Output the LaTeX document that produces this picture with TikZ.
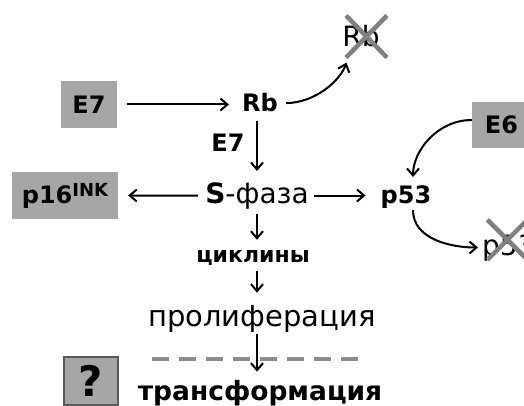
\documentclass[tikz,border=0pt]{standalone}
\usepackage{fontspec}
\setmainfont{DejaVu Sans}
\usetikzlibrary{arrows.meta, positioning}
\newcommand{\fsz}[1]{\fontsize{#1}{#1}\selectfont}
\tikzstyle{greybox} = [rectangle, fill=black!35, inner sep=0pt,
    text centered, font=\bfseries\fsz{24}]
\tikzstyle{word} = [inner sep=0pt, anchor=base, font=\fsz{28}]
\tikzstyle{boldword} = [inner sep=0pt, anchor=base, font=\bfseries\fsz{24}]
\tikzstyle{arrow} = [-{Straight Barb[length=7pt, width=12pt]}, line width=2pt]
\tikzstyle{cross} = [line width=4.5pt, draw=black!50]
\begin{document}
\begin{tikzpicture}[x=1pt, y=-1pt]
    \useasboundingbox (0,0) rectangle (524,406);
    % Boxes
    \node[greybox, minimum width=56pt, minimum height=47pt] (e7box) at (89,104.5) {E7};
    \node[greybox, minimum width=106pt, minimum height=47pt] (p16box) at (65,195.5) {p16\raisebox{7pt}{\fsz{18}INK}};
    \node[greybox, minimum width=59pt, minimum height=46pt] (e6box) at (501.5,125) {E6};
    \node[greybox, minimum width=54pt, minimum height=48pt, draw=black!65,
        line width=2pt, font=\bfseries\fsz{42}] (qbox) at (90.5,381) {?};

    % Main chain
    \node[boldword] (rb) at (260,112) {Rb};
    \node[boldword] (e7lbl) at (228,152) {E7};
    \node[word, font=\fsz{28}] (sphase) at (257,203) {\textbf{S}-фаза};
    \node[boldword] (p53) at (406,203) {p53};
    \node[boldword, font=\bfseries\fsz{22}] (cyc) at (253,262) {циклины};
    \node[word, font=\fsz{29}] (prolif) at (262,326) {пролиферация};
    \node[boldword, font=\bfseries\fsz{26.5}] (transf) at (260,400) {трансформация};

    % Knocked out
    \node[word] (rbdead) at (361,47) {Rb};
    \node[word, anchor=base west] (p53dead) at (482,255) {p53};
    \draw[cross] ([shift={(-15,-21)}]rbdead.center) -- ([shift={(26,21)}]rbdead.center);
    \draw[cross] ([shift={(26,-21)}]rbdead.center) -- ([shift={(-15,21)}]rbdead.center);
    \draw[cross] ([shift={(-21.5,-27.7)}]p53dead.center) -- ([shift={(18.5,12.3)}]p53dead.center);
    \draw[cross] ([shift={(18.5,-27.7)}]p53dead.center) -- ([shift={(-21.5,12.3)}]p53dead.center);

    \draw[line width=3.5pt, black!45, dash pattern=on 17pt off 10pt] (152,359) -- (362,359);

    \draw[arrow, shorten <=10pt, shorten >=13pt] (e7box.east) -- (e7box.east -| rb.west);
    \draw[arrow, shorten <=8pt, shorten >=11pt] (rb.south -| sphase) -- (sphase.north);
    \draw[arrow, shorten <=7pt, shorten >=10pt] (sphase.west) -- (p16box.east);
    \draw[arrow, shorten <=5pt, shorten >=15pt] (sphase.east) -- (sphase.east -| p53.west);
    \draw[arrow, shorten <=5pt, shorten >=10pt] (sphase.south) -- (sphase |- cyc.north);
    \draw[arrow, shorten <=6pt, shorten >=12pt] (cyc.south -| sphase) -- (sphase |- prolif.north);
    \draw[arrow, shorten <=2pt, shorten >=8pt] (prolif.south -| sphase) -- (sphase |- transf.north);

    \draw[arrow, shorten <=8pt, shorten >=16pt] (rb.east) to[out=0, in=-110] ([xshift=-9pt]rbdead.south);
    \draw[arrow, shorten >=8pt] ([yshift=5pt]e6box.west) to[out=180, in=90] ([xshift=7pt]p53.north);
    \draw[arrow, shorten <=2pt, shorten >=4pt] ([xshift=7pt]p53.south) to[out=-90, in=180] (p53dead.west);
\end{tikzpicture}
\end{document}
